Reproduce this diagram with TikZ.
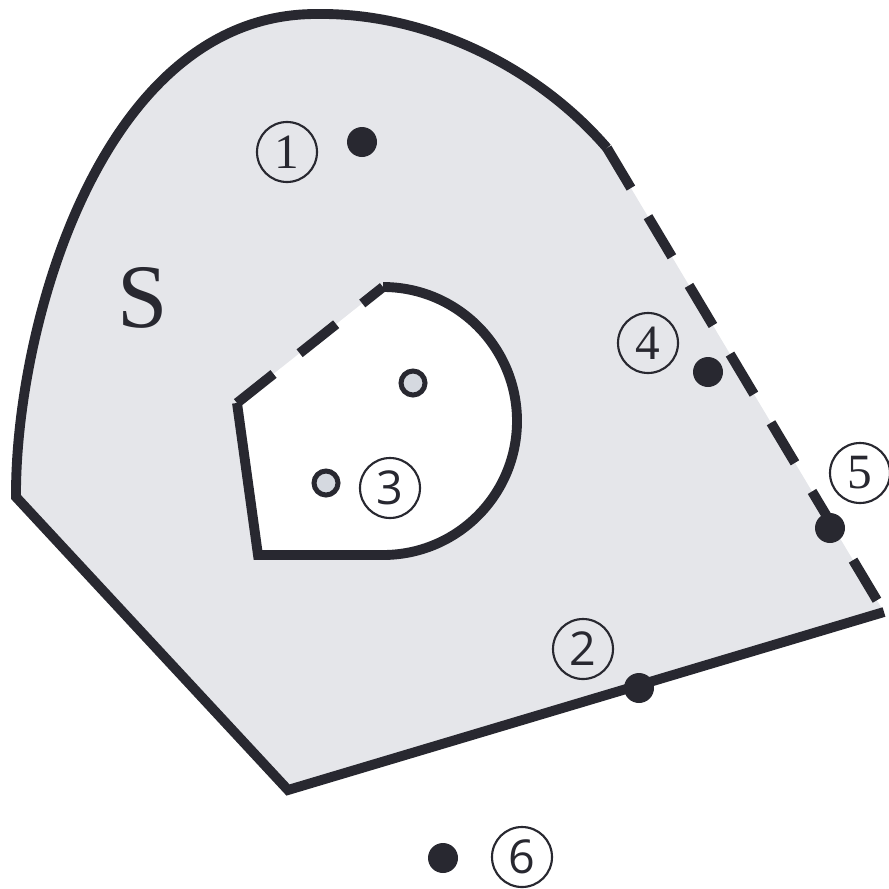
\documentclass[tikz,border=0pt]{standalone}
\usepackage{fontspec}
\newfontfamily\sansdig{Open Sans}
\newfontfamily\serifdigf{Liberation Serif}
\definecolor{ink}{HTML}{282830}
\definecolor{regionfill}{HTML}{E5E6EA}
\definecolor{dotfill}{HTML}{D5D9E0}
\begin{document}
\begin{tikzpicture}[x=0.75pt,y=-0.75pt,
  edge/.style={draw=ink, line width=7.4pt},
  dashededge/.style={edge, dash pattern=on 35pt off 25pt},
  dotnode/.style={circle, fill=ink, inner sep=0pt, minimum size=22.5pt},
  hollow/.style={circle, draw=ink, fill=dotfill, line width=3.75pt, inner sep=0pt, minimum size=18pt},
  tag/.style={circle, draw=ink, line width=1.6pt, inner sep=0pt, minimum size=45pt, text=ink},
  serifdig/.style={tag, font=\serifdigf\fontsize{37}{37}\selectfont},
  sansdg/.style={tag, font=\sansdig\fontsize{35}{35}\selectfont}]
\useasboundingbox (0,0) rectangle (889,889);
% outer region corners
\coordinate (Ttop) at (607,148);
\coordinate (Apex) at (315,14);
\coordinate (Lft) at (16,497);
\coordinate (Bot) at (288,790);
\coordinate (Rgt) at (884,612);
% inner hole corners
\coordinate (Itop) at (383,287);
\coordinate (Ileft) at (237,403);
\coordinate (Ibl) at (258,555);
\coordinate (Ibr) at (383,555);
\coordinate (Iright) at (517,421);
% fill outer region
\fill[regionfill] (Ttop) .. controls (540,70) and (430,12) .. (Apex)
  .. controls (100,15) and (15,330) .. (Lft) -- (Bot) -- (Rgt) -- cycle;
% hole
\fill[white] (Ileft) -- (Ibl) -- (Ibr) .. controls (457,555) and (517,495) .. (Iright)
  .. controls (517,347) and (457,287) .. (Itop) -- cycle;
% outer boundary
\draw[edge] (Ttop) .. controls (540,70) and (430,12) .. (Apex)
  .. controls (100,15) and (15,330) .. (Lft) -- (Bot) -- (Rgt);
\draw[dashededge] (Ttop) -- (Rgt);
% inner boundary
\draw[edge] (Ileft) -- (Ibl) -- (Ibr) .. controls (457,555) and (517,495) .. (Iright)
  .. controls (517,347) and (457,287) .. (Itop);
\draw[dashededge] (Ileft) -- (Itop);
% label S
\node[text=ink, font=\serifdigf\fontsize{68}{68}\selectfont] (S) at (143,298) {S};
% points
\node[dotnode] (d1) at (362,142) {};
\node[dotnode] (d2) at (639,688) {};
\node[dotnode] (d4) at (708,372) {};
\node[dotnode] (d5) at (830,528) {};
\node[dotnode] (d6) at (443,858) {};
\node[hollow] (h1) at (413,383) {};
\node[hollow] (h2) at (326,483) {};
% tags
\node[serifdig] (t1) at (287,152) {1};
\node[sansdg] (t2) at (583,649) {2};
\node[sansdg] (t3) at (390,488) {3};
\node[serifdig] (t4) at (648,343) {4};
\node[serifdig] (t5) at (860,473) {5};
\node[sansdg] (t6) at (522,857) {6};
\end{tikzpicture}
\end{document}
